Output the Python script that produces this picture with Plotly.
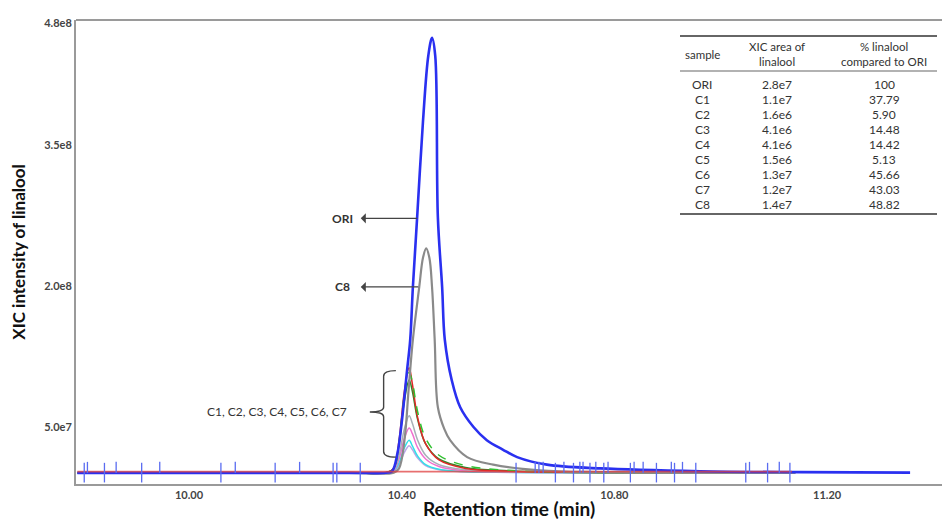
import plotly.graph_objects as go

# ---------------- data ----------------
ori_t = [9.79, 10.30, 10.37, 10.382, 10.392, 10.400, 10.410, 10.416, 10.421, 10.429, 10.440, 10.450, 10.457,
         10.463, 10.468, 10.476, 10.481, 10.494, 10.510, 10.535, 10.560, 10.590, 10.617, 10.673, 10.773,
         10.961, 11.149, 11.356]
ori_v = [1.2e6, 1.2e6, 1.4e6, 3e6, 2.2e7, 5.5e7, 1.1e8, 1.43e8, 1.99e8, 2.73e8, 3.75e8, 4.45e8, 4.64e8,
         4.45e8, 2.73e8, 1.99e8, 1.43e8, 1.0e8, 7.1e7, 5.0e7, 3.6e7, 2.6e7, 1.8e7, 1.0e7, 6.0e6,
         3.0e6, 2.0e6, 1.5e6]

c8_t = [9.79, 10.30, 10.385, 10.395, 10.405, 10.413, 10.421, 10.433, 10.440, 10.446, 10.452, 10.457,
        10.462, 10.468, 10.480, 10.491, 10.523, 10.572, 10.660, 10.773, 11.14]
c8_v = [1.2e6, 1.2e6, 1.5e6, 6e6, 3.5e7, 9.0e7, 1.43e8, 1.99e8, 2.30e8, 2.40e8, 2.30e8, 1.99e8,
        1.43e8, 7.1e7, 4.8e7, 3.6e7, 1.8e7, 1.0e7, 4.0e6, 2.0e6, 1.2e6]

small_t = [9.79, 10.30, 10.372, 10.385, 10.395, 10.405, 10.414, 10.420, 10.430, 10.445, 10.470, 10.520,
           10.600, 10.700, 11.14]
c1_v = [1.3e6, 1.3e6, 1.6e6, 6e6, 3.2e7, 7.8e7, 1.00e8, 8.8e7, 5.8e7, 3.2e7, 1.6e7, 7e6, 3.5e6, 2e6, 1.3e6]
c2_v = [1.3e6, 1.3e6, 1.5e6, 3e6, 1.2e7, 2.8e7, 3.6e7, 3.0e7, 1.9e7, 1.0e7, 5e6, 2.5e6, 1.8e6, 1.5e6, 1.3e6]
c3_v = [1.3e6, 1.3e6, 1.5e6, 4e6, 2.0e7, 4.8e7, 6.2e7, 5.4e7, 3.6e7, 2.0e7, 1.0e7, 4.5e6, 2.5e6, 1.7e6, 1.3e6]
c4_v = [1.3e6, 1.3e6, 1.5e6, 3.5e6, 1.6e7, 3.8e7, 4.9e7, 4.3e7, 2.8e7, 1.6e7, 8e6, 3.5e6, 2.2e6, 1.6e6, 1.3e6]
c5_v = [1.3e6, 1.3e6, 1.5e6, 3e6, 1.0e7, 2.3e7, 3.0e7, 2.6e7, 1.7e7, 9e6, 4.5e6, 2.3e6, 1.7e6, 1.5e6, 1.3e6]
c6_v = [1.3e6, 1.3e6, 1.6e6, 6e6, 3.6e7, 8.8e7, 1.13e8, 9.6e7, 6.0e7, 3.2e7, 1.5e7, 6e6, 3e6, 2e6, 1.3e6]
c7_v = [1.3e6, 1.3e6, 1.6e6, 6e6, 3.4e7, 8.4e7, 1.08e8, 9.8e7, 6.6e7, 3.8e7, 2.0e7, 9e6, 4e6, 2.2e6, 1.3e6]

blank_t = [9.79, 11.134]
blank_v = [2.6e6, 2.6e6]

scan_tall_t = [9.803, 9.841, 9.911, 10.060, 10.162, 10.271, 10.278, 10.322, 10.615, 10.689, 10.723,
               10.754, 10.780, 10.830, 10.879, 10.913, 10.953, 11.047, 11.088, 11.130]
scan_short_t = [9.809, 9.863, 9.945, 10.087, 10.208, 10.651, 10.658, 10.666, 10.705, 10.735, 10.741,
                10.765, 10.788, 10.837, 10.854, 10.907, 10.928, 11.054, 11.110]

samples = ["ORI", "C1", "C2", "C3", "C4", "C5", "C6", "C7", "C8"]
xic_area = ["2.8e7", "1.1e7", "1.6e6", "4.1e6", "4.1e6", "1.5e6", "1.3e7", "1.2e7", "1.4e7"]
pct_linalool = ["100", "37.79", "5.90", "14.48", "14.42", "5.13", "45.66", "43.03", "48.82"]
table_headers = ["sample", "XIC area of<br>linalool", "% linalool<br>compared to ORI"]

x_tickvals = [10.00, 10.40, 10.80, 11.20]
x_ticktext = ["10.00", "10.40", "10.80", "11.20"]
y_tickvals = [4.8e8, 3.5e8, 2.0e8, 5.0e7]
y_ticktext = ["4.8e8", "3.5e8", "2.0e8", "5.0e7"]

# ---------------- figure ----------------
W, H = 942, 525
ML, MR, MT, MB = 76, 0, 20, 41
FONT = "Lato"

fig = go.Figure()

small = [
    (c5_v, "#b8a8e8", "solid"),
    (c2_v, "#30e0e8", "solid"),
    (c4_v, "#f070d0", "solid"),
    (c3_v, "#a8b0b8", "solid"),
    (c1_v, "#2a8a2a", "solid"),
    (c6_v, "#e02828", "solid"),
    (c7_v, "#30c030", "dash"),
]
for vals, col, dash in small:
    fig.add_trace(go.Scatter(x=small_t, y=vals, mode="lines", line_shape="spline",
                             line=dict(color=col, width=1.5, dash=dash)))

fig.add_trace(go.Scatter(x=c8_t, y=c8_v, mode="lines", line_shape="spline",
                         line=dict(color="#8a8a8a", width=2.2)))
fig.add_trace(go.Scatter(x=ori_t, y=ori_v, mode="lines", line_shape="spline",
                         line=dict(color="#2a30f0", width=2.6)))
fig.add_trace(go.Scatter(x=blank_t, y=blank_v, mode="lines", opacity=0.75,
                         line=dict(color="#e04040", width=1.6)))

fig.add_trace(go.Scatter(x=scan_tall_t, y=[1.5e6] * len(scan_tall_t), mode="markers",
                         marker=dict(symbol="line-ns", size=14, line=dict(color="#5a6cf0", width=1.3))))
fig.add_trace(go.Scatter(x=scan_short_t, y=[7e6] * len(scan_short_t), mode="markers",
                         marker=dict(symbol="line-ns", size=8, line=dict(color="#5a6cf0", width=1.3))))

# ---------------- annotations ----------------
def px2x(px):
    return (px - ML) / (W - ML - MR)

def py2y(py):
    return (H - MB - py) / (H - MT - MB)

ann = []
shapes = []
txt_col = "#333333"

# labels with arrows
for label, ty, tail_t in [("ORI", 2.72e8, 10.432), ("C8", 1.99e8, 10.434)]:
    ann.append(dict(x=10.288, y=ty, xref="x", yref="y", text="<b>" + label + "</b>", showarrow=False,
                    font=dict(family=FONT, size=12, color=txt_col)))
    ann.append(dict(x=10.323, y=ty, xref="x", yref="y", ax=tail_t, ay=ty, axref="x", ayref="y",
                    text="", showarrow=True, arrowhead=1, arrowsize=1.3, arrowwidth=1.3,
                    arrowcolor="#444444"))

ann.append(dict(x=10.165, y=6.6e7, xref="x", yref="y", text="C1, C2, C3, C4, C5, C6, C7",
                showarrow=False, font=dict(family=FONT, size=12, color=txt_col)))
shapes.append(dict(type="path", xref="x", yref="y",
                   path="M 10.389,110000000 Q 10.366,110000000 10.366,104000000 L 10.366,71000000 "
                        "Q 10.366,66000000 10.340,66000000 Q 10.366,66000000 10.366,61000000 "
                        "L 10.366,24000000 Q 10.366,18000000 10.389,18000000",
                   line=dict(color="#444444", width=1.4)))

# table
col_px = [702, 777, 884]
for c, h in enumerate(table_headers):
    ann.append(dict(x=px2x(col_px[c]), y=py2y(54), xref="paper", yref="paper", text=h,
                    xanchor="center", yanchor="middle", showarrow=False,
                    font=dict(family=FONT, size=11.5, color=txt_col)))
for r in range(len(samples)):
    yy = py2y(84 + r * 15.1)
    for c, vals in enumerate([samples, xic_area, pct_linalool]):
        ann.append(dict(x=px2x(col_px[c]), y=yy, xref="paper", yref="paper", text=vals[r],
                        xanchor="center", yanchor="middle", showarrow=False,
                        font=dict(family=FONT, size=12, color=txt_col)))
for ypx, wid in [(36, 2), (71, 1.2), (214, 2)]:
    shapes.append(dict(type="line", xref="paper", yref="paper", x0=px2x(680), x1=px2x(937),
                       y0=py2y(ypx), y1=py2y(ypx), line=dict(color="#666666", width=wid)))

# top border
shapes.append(dict(type="line", xref="paper", yref="paper", x0=0, x1=1, y0=1, y1=1,
                   line=dict(color="#9a9a9a", width=2)))

fig.update_layout(
    width=W, height=H,
    margin=dict(l=ML, r=MR, t=MT, b=MB, pad=0),
    paper_bgcolor="white", plot_bgcolor="white",
    showlegend=False,
    annotations=ann, shapes=shapes,
    font=dict(family=FONT, color="#444444"),
    xaxis=dict(range=[9.7875, 11.416], tickvals=x_tickvals, ticktext=["<b>%s</b>" % t for t in x_ticktext],
               showgrid=False, zeroline=False, showline=True, linecolor="#9a9a9a", linewidth=2,
               ticks="", tickfont=dict(family=FONT, size=11, color="#444444"),
               title=dict(text="<b>Retention time (min)</b>", standoff=2,
                          font=dict(family=FONT, size=19, color="#111111"))),
    yaxis=dict(range=[-1.06e7, 4.83e8], tickvals=y_tickvals, ticktext=["<b>%s</b>" % t for t in y_ticktext],
               showgrid=False, zeroline=False, showline=True, linecolor="#9a9a9a", linewidth=2,
               ticks="", tickfont=dict(family=FONT, size=11, color="#444444"),
               title=dict(text="<b>XIC intensity of linalool</b>", standoff=14,
                          font=dict(family=FONT, size=17, color="#111111"))),
)

fig.write_html("out.html")
